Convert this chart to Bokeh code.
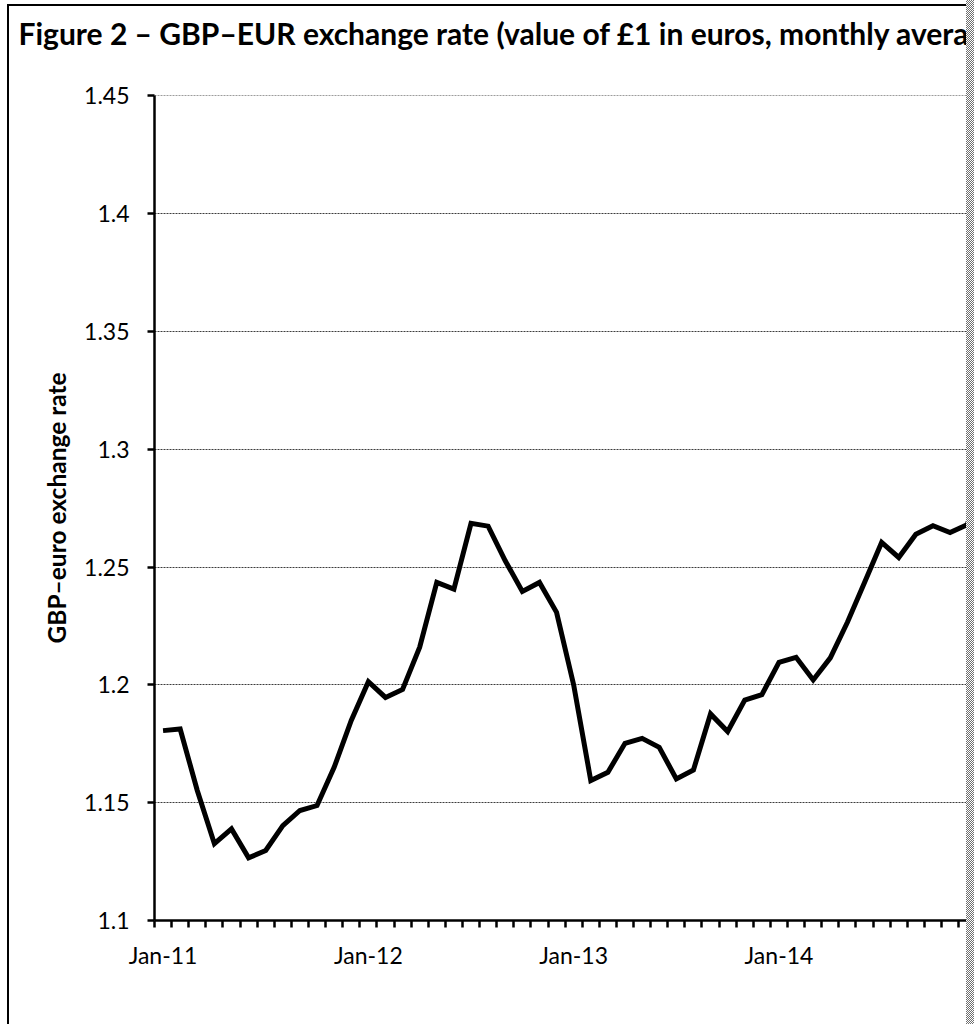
from bokeh.plotting import figure
from bokeh.models import Range1d, FixedTicker, CustomJSTickFormatter, ColumnDataSource, Spacer, Label
from bokeh.layouts import row, column
from bokeh.embed import file_html
from bokeh.resources import INLINE

# ---- data ----
months = [
    "Jan-11", "Feb-11", "Mar-11", "Apr-11", "May-11", "Jun-11", "Jul-11", "Aug-11", "Sep-11", "Oct-11", "Nov-11", "Dec-11",
    "Jan-12", "Feb-12", "Mar-12", "Apr-12", "May-12", "Jun-12", "Jul-12", "Aug-12", "Sep-12", "Oct-12", "Nov-12", "Dec-12",
    "Jan-13", "Feb-13", "Mar-13", "Apr-13", "May-13", "Jun-13", "Jul-13", "Aug-13", "Sep-13", "Oct-13", "Nov-13", "Dec-13",
    "Jan-14", "Feb-14", "Mar-14", "Apr-14", "May-14", "Jun-14", "Jul-14", "Aug-14", "Sep-14", "Oct-14", "Nov-14", "Dec-14",
    "Jan-15",
]
gbp_eur = [
    1.1806, 1.1813, 1.1552, 1.1326, 1.1389, 1.1266, 1.1297, 1.1403, 1.1467, 1.1488, 1.1650, 1.1849,
    1.2014, 1.1947, 1.1981, 1.2160, 1.2435, 1.2407, 1.2686, 1.2674, 1.2527, 1.2397, 1.2435, 1.2308,
    1.2000, 1.1594, 1.1629, 1.1752, 1.1773, 1.1735, 1.1601, 1.1639, 1.1877, 1.1802, 1.1936, 1.1959,
    1.2096, 1.2117, 1.2021, 1.2115, 1.2266, 1.2435, 1.2605, 1.2541, 1.2640, 1.2676, 1.2647, 1.2680,
    1.2890,
]
year_start_idx = [0, 12, 24, 36]
y_ticks = [1.1, 1.15, 1.2, 1.25, 1.3, 1.35, 1.4, 1.45]
title_text = "Figure 2 \u2013 GBP\u2013EUR exchange rate (value of \u00a31 in euros, monthly average)"
y_label = "GBP\u2013euro exchange rate"

FONT = "Lato"

idx = list(range(len(months)))
src = ColumnDataSource(dict(x=idx, rate=gbp_eur, month=months))

PW = 957          # width of the chart canvas (inside the frame edges)
TH = 70           # height of the title strip
PH = 1024 - 6 - TH

# ---- title strip: a bare canvas holding the title, cut at the right edge like the reference ----
tp = figure(width=PW, height=TH, x_range=Range1d(0, 1), y_range=Range1d(0, 1),
            x_axis_type=None, y_axis_type=None, output_backend="svg", toolbar_location=None,
            min_border=0, min_border_left=0, min_border_right=0, min_border_top=0, min_border_bottom=0)
tp.frame_align = False
tp.outline_line_color = None
tp.xgrid.visible = False
tp.ygrid.visible = False
tp.background_fill_color = "white"
tp.border_fill_color = "white"
tp.add_layout(Label(x=9, y=TH - 26, x_units="screen", y_units="screen", text=title_text,
                    text_font=FONT, text_font_style="bold", text_font_size="30px",
                    text_baseline="alphabetic", text_color="black"))

# ---- main chart ----
p = figure(
    width=PW, height=PH,
    x_range=Range1d(-0.5, 46.96), y_range=Range1d(1.1, 1.4502),
    output_backend="svg", toolbar_location=None,
    min_border_left=145, min_border_right=0, min_border_top=19, min_border_bottom=104,
)
p.frame_align = False
p.outline_line_color = None
p.background_fill_color = "white"
p.border_fill_color = "white"

# grid
p.xgrid.visible = False
p.ygrid.ticker = FixedTicker(ticks=y_ticks[1:])
p.ygrid.grid_line_color = "#3c3c3c"
p.ygrid.grid_line_dash = "2 1"
p.ygrid.grid_line_width = 1.2

p.line("x", "rate", source=src, line_color="black", line_width=5, line_join="miter")

# y axis
yax = p.yaxis[0]
yax.ticker = FixedTicker(ticks=y_ticks)
yax.formatter = CustomJSTickFormatter(code="return tick.toFixed(2).replace(/0$/, '');")
yax.axis_line_width = 2.5
yax.axis_line_color = "black"
yax.major_tick_out = 7
yax.major_tick_in = 0
yax.major_tick_line_width = 2.5
yax.minor_tick_out = 0
yax.minor_tick_in = 0
yax.major_label_text_font = FONT
yax.major_label_text_font_size = "23px"
yax.major_label_text_color = "black"
yax.major_label_standoff = 18
yax.axis_label = y_label
yax.axis_label_text_font = FONT
yax.axis_label_text_font_style = "bold"
yax.axis_label_text_font_size = "24.5px"
yax.axis_label_text_color = "black"
yax.axis_label_standoff = 10

# x axis
xax = p.xaxis[0]
xax.ticker = FixedTicker(ticks=year_start_idx, minor_ticks=[i - 0.5 for i in range(len(months) + 1)])
xax.formatter = CustomJSTickFormatter(args=dict(labels=months), code="return labels[Math.round(tick)] || '';")
xax.axis_line_width = 2.5
xax.axis_line_color = "black"
xax.major_tick_out = 0
xax.major_tick_in = 0
xax.minor_tick_out = 7
xax.minor_tick_in = 0
xax.minor_tick_line_width = 2.5
xax.minor_tick_line_color = "black"
xax.major_label_text_font = FONT
xax.major_label_text_font_size = "23px"
xax.major_label_text_color = "black"
xax.major_label_standoff = 13

# chart-area frame: black left and top edge, dotted grey edge at the right
left_gap = Spacer(width=7, height=1024)
left_edge = column(Spacer(width=2, height=4),
                   Spacer(width=2, height=1020, styles={"background-color": "black"}))
middle = column(Spacer(width=PW, height=4),
                Spacer(width=PW, height=2, styles={"background-color": "black"}),
                tp, p)
right_edge = Spacer(width=8, height=1024, styles={
    "background-color": "#ffffff",
    "background-image": "repeating-conic-gradient(#6f6f6f 0% 25%, #ffffff 0% 50%)",
    "background-size": "2px 2px",
})
layout = row(left_gap, left_edge, middle, right_edge)

open("out.html", "w").write(file_html(layout, INLINE))
